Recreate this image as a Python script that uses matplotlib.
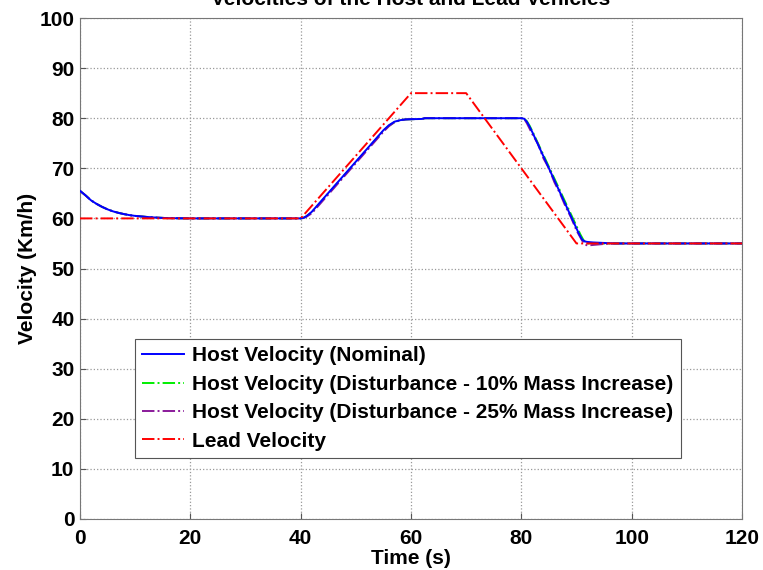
import matplotlib
matplotlib.use('Agg')
import matplotlib.pyplot as plt

# ---- data ----
t_nom = [0, 1, 2, 3, 4, 5, 6, 7, 8, 9, 10, 12, 14, 16, 20, 40, 40.5, 41, 42,
         55, 56, 57, 58, 59, 60, 62, 62.5, 80, 80.5, 81, 81.5, 82, 90.5, 91,
         91.5, 92, 93, 95, 97, 100, 120]
v_nom = [65.5, 64.6, 63.6, 62.9, 62.3, 61.8, 61.4, 61.1, 60.85, 60.65, 60.5,
         60.3, 60.15, 60.05, 60.0, 60.0, 60.1, 60.4, 61.3,
         77.6, 78.6, 79.3, 79.6, 79.75, 79.8, 79.85, 80.0, 80.0, 79.9, 79.3,
         78.3, 77.2, 56.8, 55.8, 55.4, 55.3, 55.2, 55.1, 55.0, 55.0, 55.0]

t_d10 = [0, 1, 2, 3, 4, 5, 6, 7, 8, 9, 10, 12, 14, 16, 20, 40, 40.5, 41, 42,
         55, 56, 57, 58, 59, 60, 62, 62.5, 80, 80.5, 81, 81.5, 82, 90.7, 91.3,
         92, 94, 97, 100, 120]
v_d10 = [65.5, 64.6, 63.6, 62.9, 62.3, 61.8, 61.4, 61.1, 60.85, 60.65, 60.5,
         60.3, 60.15, 60.05, 60.0, 60.0, 60.1, 60.4, 61.2,
         77.5, 78.5, 79.2, 79.6, 79.75, 79.8, 79.85, 80.0, 80.0, 79.9, 79.4,
         78.5, 77.4, 56.8, 55.6, 55.0, 55.0, 55.0, 55.0, 55.0]

t_d25 = [0, 1, 2, 3, 4, 5, 6, 7, 8, 9, 10, 12, 14, 16, 20, 40, 40.5, 41, 42,
         55, 56, 57, 58, 59, 60, 62, 62.5, 80, 80.5, 81, 82, 83, 84, 85, 86,
         87, 88, 89, 90, 91, 91.5, 92, 93, 95, 97, 100, 120]
v_d25 = [65.5, 64.6, 63.6, 62.9, 62.3, 61.8, 61.4, 61.1, 60.85, 60.65, 60.5,
         60.3, 60.15, 60.05, 60.0, 60.0, 60.1, 60.3, 61.0,
         77.3, 78.4, 79.2, 79.6, 79.75, 79.8, 79.85, 80.0, 80.0, 79.9, 79.0,
         76.8, 74.9, 72.0, 70.0, 67.2, 65.0, 62.4, 60.2, 57.6, 55.6, 54.8,
         54.6, 54.7, 54.9, 55.0, 55.0, 55.0]

t_lead = [0, 40, 60, 70, 90, 120]
v_lead = [60, 60, 85, 85, 55, 55]

# ---- figure ----
plt.rcParams['font.family'] = ['Liberation Sans', 'DejaVu Sans']
plt.rcParams['font.weight'] = 'bold'

fig = plt.figure(figsize=(7.63, 5.70), dpi=100)
ax = fig.add_axes([80 / 763, 1 - 519 / 570, 662 / 763, 501 / 570])

l_d10, = ax.plot(t_d10, v_d10, color='#00ee00', ls='-.', lw=1.4, zorder=2,
                 label='Host Velocity (Disturbance - 10% Mass Increase)')
l_d25, = ax.plot(t_d25, v_d25, color='#8a1a9a', ls='-.', lw=1.4, zorder=3,
                 label='Host Velocity (Disturbance - 25% Mass Increase)')
l_nom, = ax.plot(t_nom, v_nom, color='#0000ff', ls='-', lw=1.4, zorder=4,
                 label='Host Velocity (Nominal)')
l_lead, = ax.plot(t_lead, v_lead, color='#ff0000', ls='-.', lw=1.4, zorder=5,
                  label='Lead Velocity')

ax.set_xlim(0, 120)
ax.set_ylim(0, 100)
ax.set_xticks(range(0, 121, 20))
ax.set_yticks(range(0, 101, 10))
ax.grid(True, ls=':', color='#999999', lw=0.9)
ax.tick_params(direction='in', length=4, labelsize=15, colors='#555555',
               labelcolor='black')
ax.tick_params(axis='x', pad=7)
ax.tick_params(axis='y', pad=4)
for s in ax.spines.values():
    s.set_color('#777777')
    s.set_linewidth(0.8)

ax.set_xlabel('Time (s)', fontsize=15, fontweight='bold', labelpad=1)
ax.set_ylabel('Velocity (Km/h)', fontsize=15, fontweight='bold', labelpad=2)

fig.text(411 / 763, 1 - 5 / 570, 'Velocities of the Host and Lead Vehicles',
         ha='center', va='baseline', fontsize=15, fontweight='bold')

leg = ax.legend(handles=[l_nom, l_d10, l_d25, l_lead],
                loc='lower left', bbox_to_anchor=(0.083, 0.122),
                fontsize=15, frameon=True, fancybox=False, framealpha=1,
                edgecolor='#555555', handlelength=2.0, handletextpad=0.4,
                labelspacing=0.45, borderpad=0.35, borderaxespad=0)
leg.get_frame().set_linewidth(0.8)

fig.savefig('out.png', dpi=100)
